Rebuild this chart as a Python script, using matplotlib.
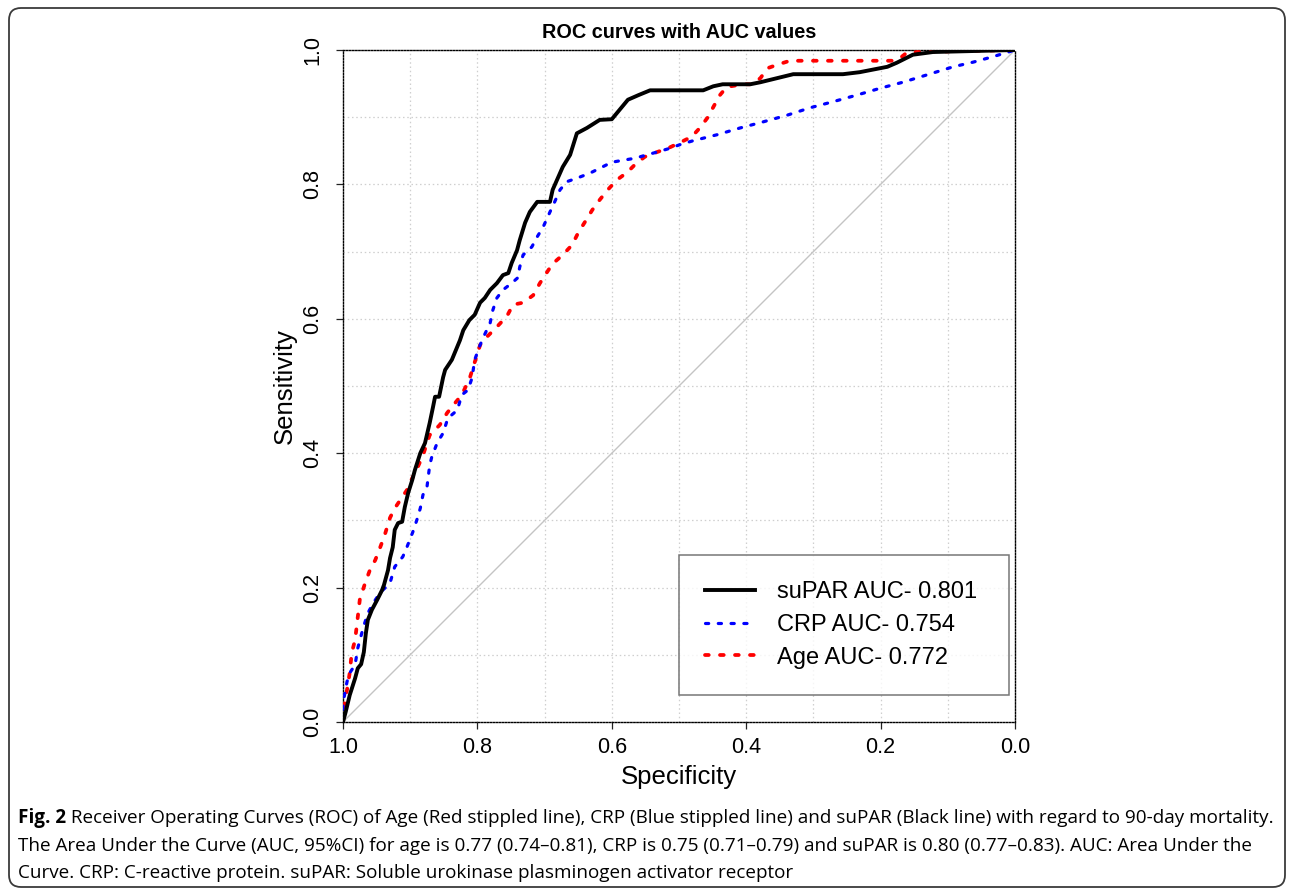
import matplotlib
matplotlib.use("Agg")
import matplotlib.pyplot as plt
from matplotlib.patches import FancyBboxPatch
from matplotlib.transforms import IdentityTransform

# ---------------- data ----------------
supar_spec = [1.000, 0.996, 0.990, 0.982, 0.978, 0.973, 0.969, 0.966, 0.963, 0.957,
              0.949, 0.942, 0.939, 0.933, 0.930, 0.926, 0.923, 0.918, 0.912, 0.908,
              0.903, 0.897, 0.893, 0.885, 0.878, 0.871, 0.866, 0.863, 0.857, 0.851,
              0.848, 0.838, 0.826, 0.821, 0.812, 0.804, 0.796, 0.789, 0.781, 0.771,
              0.762, 0.754, 0.749, 0.741, 0.737, 0.729, 0.722, 0.711, 0.692, 0.688,
              0.673, 0.662, 0.652, 0.637, 0.618, 0.600, 0.576, 0.560, 0.543, 0.464,
              0.449, 0.435, 0.394, 0.379, 0.330, 0.256, 0.231, 0.190, 0.176, 0.152,
              0.122, 0.000]
supar_sens = [0.000, 0.015, 0.040, 0.065, 0.080, 0.086, 0.104, 0.132, 0.152, 0.167,
              0.182, 0.196, 0.204, 0.226, 0.244, 0.260, 0.286, 0.296, 0.298, 0.320,
              0.341, 0.360, 0.375, 0.400, 0.415, 0.445, 0.469, 0.484, 0.484, 0.513,
              0.524, 0.539, 0.568, 0.583, 0.598, 0.606, 0.624, 0.631, 0.643, 0.653,
              0.665, 0.668, 0.683, 0.702, 0.717, 0.743, 0.759, 0.774, 0.774, 0.792,
              0.826, 0.844, 0.876, 0.884, 0.896, 0.897, 0.926, 0.933, 0.940, 0.940,
              0.946, 0.949, 0.949, 0.952, 0.964, 0.964, 0.967, 0.975, 0.981, 0.993,
              0.997, 1.000]

crp_spec = [1.000, 1.000, 0.994, 0.990, 0.982, 0.978, 0.970, 0.963, 0.955, 0.945,
            0.930, 0.923, 0.911, 0.905, 0.896, 0.890, 0.885, 0.881, 0.875, 0.871,
            0.868, 0.860, 0.851, 0.844, 0.830, 0.823, 0.814, 0.808, 0.804, 0.796,
            0.789, 0.781, 0.777, 0.771, 0.762, 0.749, 0.740, 0.737, 0.732, 0.719,
            0.711, 0.702, 0.692, 0.685, 0.677, 0.667, 0.650, 0.632, 0.618, 0.600,
            0.583, 0.565, 0.548, 0.533, 0.516, 0.499, 0.479, 0.443, 0.409, 0.375,
            0.339, 0.305, 0.271, 0.235, 0.201, 0.167, 0.131, 0.092, 0.062, 0.033,
            0.000]
crp_sens = [0.000, 0.028, 0.060, 0.073, 0.085, 0.110, 0.140, 0.162, 0.177, 0.192,
            0.207, 0.231, 0.246, 0.260, 0.283, 0.301, 0.318, 0.338, 0.350, 0.382,
            0.394, 0.415, 0.430, 0.452, 0.464, 0.487, 0.494, 0.512, 0.539, 0.561,
            0.577, 0.594, 0.613, 0.631, 0.643, 0.653, 0.661, 0.677, 0.695, 0.707,
            0.722, 0.737, 0.759, 0.774, 0.792, 0.804, 0.810, 0.817, 0.824, 0.833,
            0.836, 0.839, 0.844, 0.848, 0.853, 0.859, 0.865, 0.874, 0.884, 0.893,
            0.903, 0.914, 0.923, 0.933, 0.943, 0.952, 0.963, 0.975, 0.982, 0.990,
            1.000]

age_spec = [1.000, 0.997, 0.994, 0.990, 0.987, 0.982, 0.975, 0.967, 0.960, 0.952,
            0.945, 0.938, 0.930, 0.923, 0.915, 0.905, 0.896, 0.888, 0.881, 0.871,
            0.856, 0.845, 0.833, 0.823, 0.811, 0.796, 0.786, 0.771, 0.756, 0.747,
            0.732, 0.717, 0.707, 0.696, 0.688, 0.673, 0.659, 0.650, 0.640, 0.629,
            0.618, 0.606, 0.592, 0.577, 0.565, 0.551, 0.533, 0.516, 0.499, 0.481,
            0.469, 0.457, 0.449, 0.439, 0.429, 0.405, 0.392, 0.379, 0.368, 0.354,
            0.335, 0.182, 0.171, 0.161, 0.146, 0.000]
age_sens = [0.000, 0.033, 0.048, 0.073, 0.103, 0.122, 0.182, 0.207, 0.226, 0.241,
            0.259, 0.278, 0.304, 0.318, 0.330, 0.345, 0.365, 0.381, 0.397, 0.427,
            0.442, 0.460, 0.475, 0.487, 0.513, 0.561, 0.573, 0.588, 0.604, 0.621,
            0.624, 0.635, 0.653, 0.670, 0.682, 0.695, 0.710, 0.728, 0.744, 0.762,
            0.777, 0.792, 0.807, 0.818, 0.830, 0.841, 0.848, 0.854, 0.862, 0.871,
            0.884, 0.900, 0.915, 0.933, 0.945, 0.949, 0.949, 0.958, 0.973, 0.978,
            0.984, 0.984, 0.988, 0.996, 0.997, 1.000]

legend_labels = ["suPAR AUC- 0.801", "CRP AUC- 0.754", "Age AUC- 0.772"]
tick_values = [1.0, 0.8, 0.6, 0.4, 0.2, 0.0]
tick_labels = ["1.0", "0.8", "0.6", "0.4", "0.2", "0.0"]
grid_levels = [0.1, 0.2, 0.3, 0.4, 0.5, 0.6, 0.7, 0.8, 0.9]

title = "ROC curves with AUC values"
xlabel = "Specificity"
ylabel = "Sensitivity"
caption_bold = "Fig. 2"
caption_lines = [
    " Receiver Operating Curves (ROC) of Age (Red stippled line), CRP (Blue stippled line) and suPAR (Black line) with regard to 90-day mortality.",
    "The Area Under the Curve (AUC, 95%CI) for age is 0.77 (0.74\u20130.81), CRP is 0.75 (0.71\u20130.79) and suPAR is 0.80 (0.77\u20130.83). AUC: Area Under the",
    "Curve. CRP: C-reactive protein. suPAR: Soluble urokinase plasminogen activator receptor",
]

# ---------------- figure ----------------
W, H = 1292, 890
fig = plt.figure(figsize=(W / 100, H / 100), dpi=100)
fig.patch.set_facecolor("white")

# outer rounded frame (pixel coordinates)
frame = FancyBboxPatch((9, 3), 1276, 879, boxstyle="round,pad=0,rounding_size=12",
                       transform=IdentityTransform(), facecolor="none",
                       edgecolor="#3a3a3a", linewidth=1.3)
fig.add_artist(frame)

ax = fig.add_axes([343 / W, 1 - 722 / H, 672 / W, 672 / H])
ax.set_xlim(1.0, 0.0)
ax.set_ylim(0.0, 1.0)

sans = ["Liberation Sans", "DejaVu Sans"]

grid_style = dict(color="#cfcfcf", linewidth=0.9, linestyle=(0, (1.2, 2.2)), zorder=1)
for g in grid_levels:
    ax.axvline(g, **grid_style)
    ax.axhline(g, **grid_style)

ax.plot([1, 0], [0, 1], color="#c4c4c4", linewidth=1.0, zorder=2)

l_supar, = ax.plot(supar_spec, supar_sens, color="black", linewidth=2.8,
                   solid_joinstyle="round", zorder=5)
l_crp, = ax.plot(crp_spec, crp_sens, color="#0000ff", linewidth=2.3,
                 linestyle=(0, (1, 3)), dash_capstyle="round", zorder=4)
l_age, = ax.plot(age_spec, age_sens, color="#ff0000", linewidth=2.7,
                 linestyle=(0, (1, 3)), dash_capstyle="round", zorder=3)

for sp in ax.spines.values():
    sp.set_linestyle((0, (1, 1.2)))
    sp.set_linewidth(1.0)
    sp.set_color("black")

ax.set_xticks(tick_values)
ax.set_xticklabels(tick_labels, fontsize=15.5, family=sans)
ax.set_yticks(tick_values)
ax.set_yticklabels(tick_labels, fontsize=15.5, family=sans, rotation=90, va="center")
ax.tick_params(direction="out", length=5, width=0.9, color="#222222", pad=6)
ax.tick_params(axis="y", pad=9)

leg = ax.legend([l_supar, l_crp, l_age], legend_labels, loc="lower left",
                bbox_to_anchor=(0.5, 0.0402, 0.491, 0.2), mode="expand",
                prop={"family": sans, "size": 17}, frameon=True, fancybox=False,
                edgecolor="#555555", handlelength=2.1, handletextpad=0.92,
                labelspacing=0.45, borderpad=1.12, borderaxespad=0.0)
leg.get_frame().set_linewidth(1.1)
leg.set_zorder(10)

fig.text(679 / W, 1 - 33 / H, title, ha="center", va="center", fontsize=14.3,
         fontweight="bold", family=sans)
fig.text(679 / W, 1 - 777 / H, xlabel, ha="center", va="center", fontsize=18.5, family=sans)
fig.text(285 / W, 1 - 386 / H, ylabel, ha="center", va="center", fontsize=18.5,
         family=sans, rotation=90)

# caption
cap_font = ["Open Sans", "DejaVu Sans"]
cap_size = 13.55
renderer = fig.canvas.get_renderer()
y_lines = [818, 846, 873]
tb = fig.text(18 / W, 1 - y_lines[0] / H, caption_bold, ha="left", va="center",
              fontsize=cap_size, fontweight="bold", family=cap_font)
bb = tb.get_window_extent(renderer)
fig.text(bb.x1 / W, 1 - y_lines[0] / H, caption_lines[0], ha="left", va="center",
         fontsize=cap_size, family=cap_font)
for yl, line in zip(y_lines[1:], caption_lines[1:]):
    fig.text(18 / W, 1 - yl / H, line, ha="left", va="center", fontsize=cap_size,
             family=cap_font)

fig.savefig("out.png", dpi=100, facecolor="white")
